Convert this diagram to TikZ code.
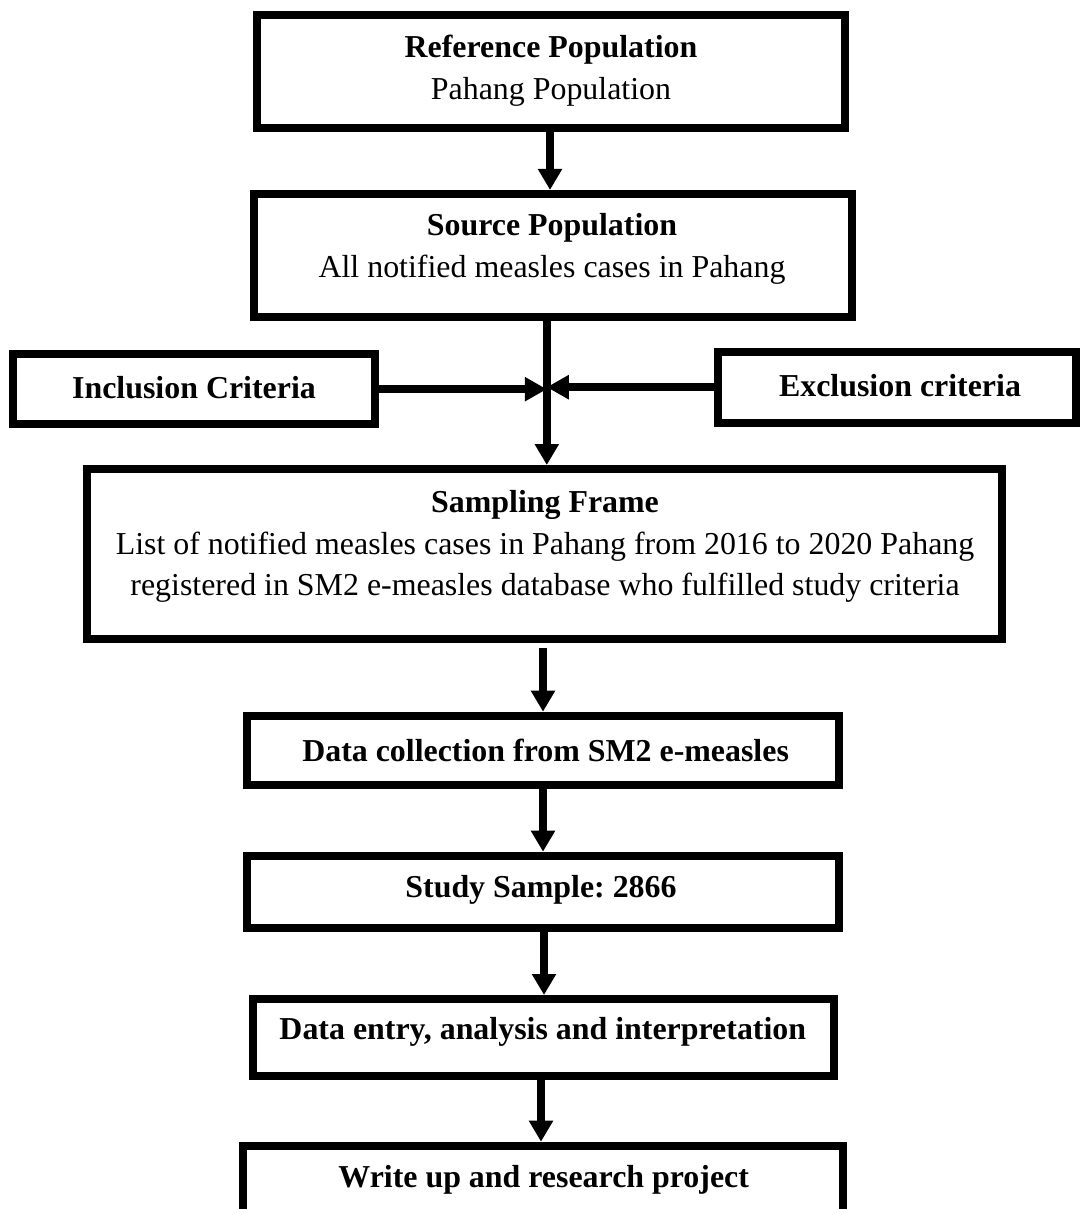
\documentclass[tikz,border=0pt]{standalone}
\usepackage{fontspec}
\setmainfont{Liberation Serif}
\usetikzlibrary{arrows.meta}
\frenchspacing
\begin{document}
\begin{tikzpicture}[x=1pt,y=-1pt,
  box/.style={draw,line width=8pt,inner sep=0pt},
  txt/.style={inner sep=0pt,align=center,font=\fontsize{31.9}{42}\selectfont},
  arr/.style={line width=8pt,-{Triangle[length=21pt,width=23pt]}},
  harr/.style={line width=7.5pt,-{Triangle[length=22pt,width=23pt]}},
]
\useasboundingbox (0,0) rectangle (1082,1209);
\clip (0,0) rectangle (1082,1209);

% boxes
\node[box,minimum width=588pt,minimum height=113pt] (ref) at (551,71.2) {};
\node[box,minimum width=598.4pt,minimum height=122.7pt] (src) at (552.8,255.3) {};
\node[box,minimum width=362pt,minimum height=70.3pt] (incl) at (194.3,389.2) {};
\node[box,minimum width=357.4pt,minimum height=71pt] (excl) at (897,387.2) {};
\node[box,minimum width=914.7pt,minimum height=170.3pt] (samp) at (544.7,554.2) {};
\node[box,minimum width=592pt,minimum height=69.6pt] (dc) at (543,750.5) {};
\node[box,minimum width=592pt,minimum height=72pt] (ss) at (543,891.7) {};
\node[box,minimum width=581pt,minimum height=77pt] (de) at (543,1037.5) {};
\node[box,minimum width=600pt,minimum height=66.8pt] (wu) at (543,1179.1) {};

% texts
\node[txt] (refT) at (551,71) {\textbf{Reference Population}\\Pahang Population};
\node[txt] (srcT) at (552,249) {\textbf{Source Population}\\All notified measles cases in Pahang};
\node[txt] (inclT) at (194,388) {\textbf{Inclusion Criteria}};
\node[txt] (exclT) at (900,386) {\textbf{Exclusion criteria}};
\node[txt,font=\fontsize{31.9}{41.5}\selectfont] (sampT) at (545,546.5) {\textbf{Sampling Frame}\\List of notified measles cases in Pahang from 2016 to 2020 Pahang\\registered in SM2 e-measles database who fulfilled study criteria};
\node[txt] (dcT) at (545.6,750) {\textbf{Data collection from SM2 e-measles}};
\node[txt] (ssT) at (541,890) {\textbf{Study Sample: 2866}};
\node[txt] (deT) at (542.8,1031.7) {\textbf{Data entry, analysis and interpretation}};
\node[txt] (wuT) at (543.7,1180) {\textbf{Write up and research project}};

% connectors
\draw[arr] ([xshift=-1pt]ref.south) -- ([xshift=-1pt]ref.south |- src.north);
\path ([xshift=-6pt]src.south) coordinate (vx);
\draw[arr] (vx) -- (vx |- samp.north);
\draw[harr] (incl.east) -- (vx |- incl.east);
\draw[harr] (excl.west) -- (vx |- excl.west);
\path ([xshift=-1.7pt,yshift=-5pt]samp.south) coordinate (a2);
\draw[arr] (a2) -- (a2 |- dc.north);
\draw[arr] (dc.south) -- (dc.south |- ss.north);
\draw[arr] ([xshift=1pt]ss.south) -- ([xshift=1pt]ss.south |- de.north);
\draw[arr] ([xshift=-2pt]de.south) -- ([xshift=-2pt]de.south |- wu.north);
\end{tikzpicture}
\end{document}
